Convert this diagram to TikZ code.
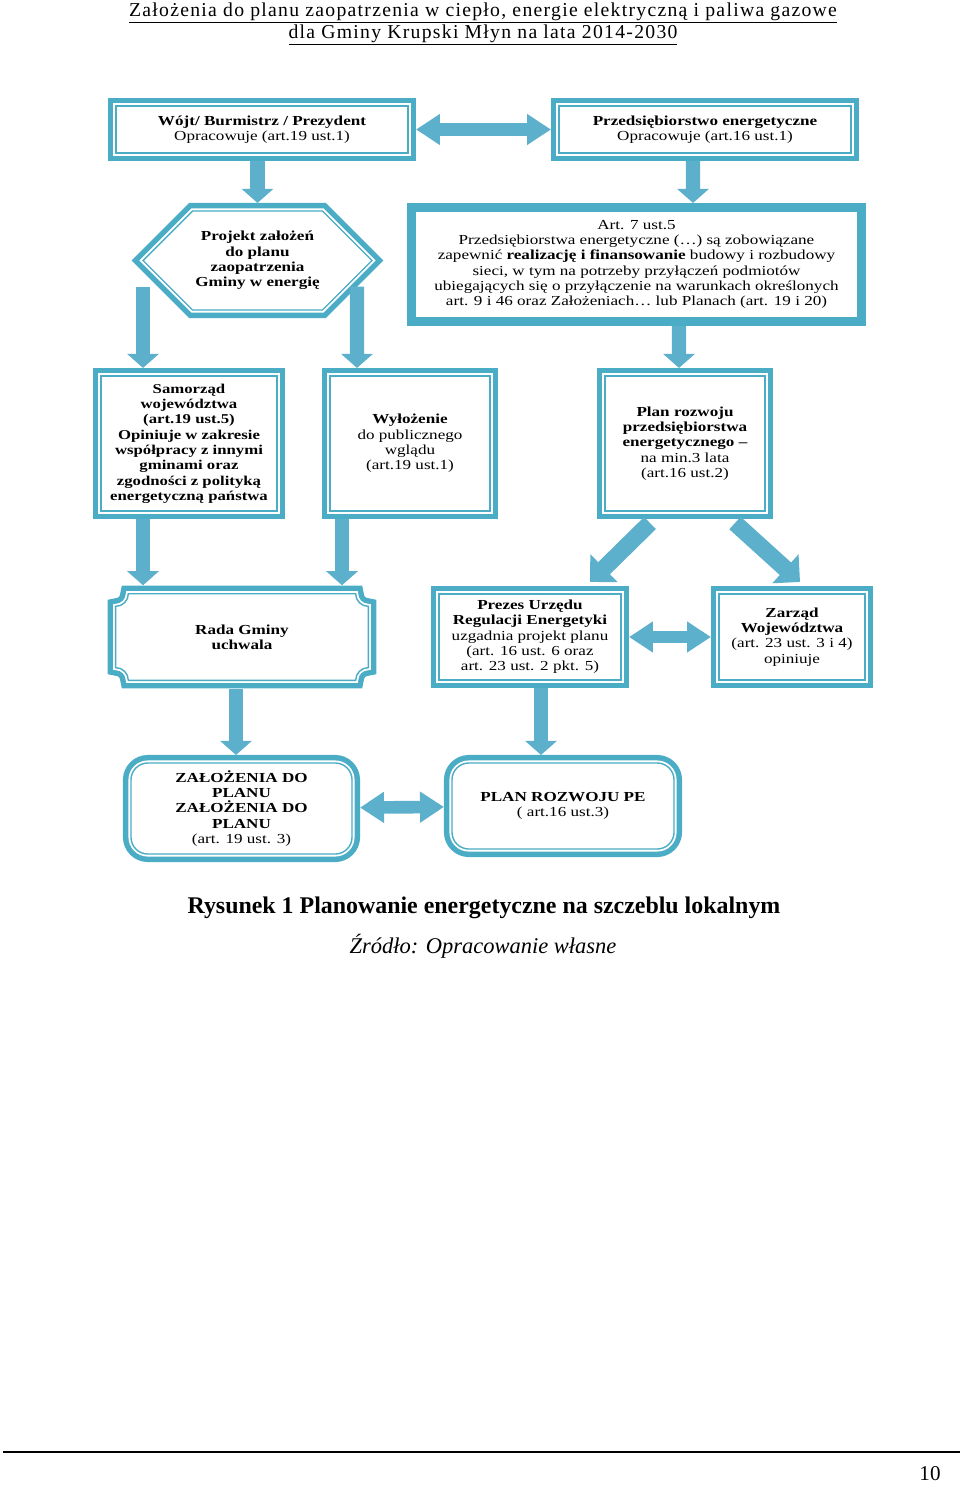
\documentclass[tikz,border=0pt]{standalone}
\usepackage{fontspec}
\setmainfont{Liberation Serif}
\newfontfamily\boxfont[FakeStretch=1.24]{Liberation Serif}
\newfontfamily\headfont[LetterSpace=6.5]{Liberation Serif}
\usetikzlibrary{calc, shapes.symbols, arrows.meta, backgrounds}
\definecolor{frame}{RGB}{75,172,198}
\definecolor{arrowblue}{RGB}{92,176,204}

\tikzset{
  txt/.style={align=center, font=\boxfont\fontsize{9.8}{10.9}\selectfont, inner sep=2pt},
  twoline/.style={preaction={draw=frame, line width=11.4pt}, fill=white, draw=white,
    line width=3.6pt, postaction={draw=frame, line width=1pt}},
  dbox/.style={txt, twoline, outer sep=5.7pt},
  thickbox/.style={txt, draw=frame, line width=6.4pt, fill=white, outer sep=3.2pt},
  fat/.style={draw=arrowblue, line width=10pt, -{Triangle[width=22pt,length=10pt]}},
  fatdiag/.style={draw=arrowblue, line width=12pt, -{Triangle[width=27pt,length=14pt]}},
  twoway/.style={draw=arrowblue, line width=9pt,
    {Triangle[width=21pt,length=17pt]}-{Triangle[width=21pt,length=17pt]}}
}

\begin{document}
\begin{tikzpicture}[x=0.025cm, y=-0.025cm]
\useasboundingbox (0,0) rectangle (960,1486);

% page header
\node[align=center, font=\headfont\fontsize{14}{15.6}\selectfont] (head) at (483,24)
  {\underline{Założenia do planu zaopatrzenia w ciepło, energie elektryczną i paliwa gazowe}\\
   \underline{dla Gminy Krupski Młyn na lata 2014-2030}};

% first row
\node[dbox, minimum width=7.3cm, minimum height=1.175cm] (wojt) at (262,129.5)
  {\textbf{Wójt/ Burmistrz / Prezydent}\\Opracowuje (art.19 ust.1)};
\node[dbox, minimum width=7.3cm, minimum height=1.175cm] (przeds) at (705,129.5)
  {\textbf{Przedsiębiorstwo energetyczne}\\Opracowuje (art.16 ust.1)};

% second row
\node[dbox, signal, signal to=east and west, signal pointer angle=90,
  minimum width=5.575cm, minimum height=2.475cm] (proj) at (257.5,260.5)
  {\textbf{Projekt założeń}\\\textbf{do planu}\\\textbf{zaopatrzenia}\\\textbf{Gminy w energię}};
\node[thickbox, minimum width=11.25cm, minimum height=2.85cm] (art) at (636.5,264.5)
  {Art. 7 ust.5\\
   Przedsiębiorstwa energetyczne (…) są zobowiązane\\
   zapewnić \textbf{realizację i finansowanie} budowy i rozbudowy\\
   sieci, w tym na potrzeby przyłączeń podmiotów\\
   ubiegających się o przyłączenie na warunkach określonych\\
   art. 9 i 46 oraz Założeniach… lub Planach (art. 19 i 20)};

% third row
\node[dbox, minimum width=4.4cm, minimum height=3.375cm, font=\boxfont\bfseries\fontsize{9.6}{10.9}\selectfont] (samorz) at (189,443.5)
  {Samorząd\\województwa\\(art.19 ust.5)\\Opiniuje w zakresie\\współpracy z innymi\\gminami oraz\\zgodności z polityką\\energetyczną państwa};
\node[dbox, minimum width=4cm, minimum height=3.375cm] (wyloz) at (410,443.5)
  {\textbf{Wyłożenie}\\do publicznego\\wglądu\\(art.19 ust.1)};
\node[dbox, minimum width=4cm, minimum height=3.375cm] (plan) at (685,443.5)
  {\textbf{Plan rozwoju}\\\textbf{przedsiębiorstwa}\\\textbf{energetycznego –}\\na min.3 lata\\(art.16 ust.2)};

% fourth row
\node[txt, minimum width=6.3cm, minimum height=2.15cm] (rada) at (242,637)
  {\textbf{Rada Gminy}\\\textbf{uchwala}};
\begin{scope}[on background layer]
  \draw[twoline] ($(rada.north west)+(9pt,0)$) -- ($(rada.north east)+(-9pt,0)$)
    arc[start angle=180, end angle=270, radius=9pt]
    -- ($(rada.south east)+(0,9pt)$) arc[start angle=90, end angle=180, radius=9pt]
    -- ($(rada.south west)+(9pt,0)$) arc[start angle=0, end angle=90, radius=9pt]
    -- ($(rada.north west)+(0,-9pt)$) arc[start angle=270, end angle=360, radius=9pt]
    -- cycle;
\end{scope}
\node[dbox, minimum width=4.55cm, minimum height=2.15cm] (prezes) at (530,637)
  {\textbf{Prezes Urzędu}\\\textbf{Regulacji Energetyki}\\uzgadnia projekt planu\\(art. 16 ust. 6 oraz\\art. 23 ust. 2 pkt. 5)};
\node[dbox, minimum width=3.65cm, minimum height=2.15cm] (zarzad) at (792,637)
  {\textbf{Zarząd}\\\textbf{Województwa}\\(art. 23 ust. 3 i 4)\\opiniuje};

% last row
\node[dbox, rounded corners=12pt, minimum width=5.525cm, minimum height=2.275cm] (zal) at (241.5,808.5)
  {\textbf{ZAŁOŻENIA DO}\\\textbf{PLANU}\\\textbf{ZAŁOŻENIA DO}\\\textbf{PLANU}\\(art. 19 ust. 3)};
\node[dbox, rounded corners=12pt, minimum width=5.55cm, minimum height=2.15cm] (planroz) at (563,806)
  {\textbf{PLAN ROZWOJU PE}\\( art.16 ust.3)};

% arrows
\draw[twoway] (wojt) -- (przeds);
\draw[fat] (wojt.south -| proj.north) -- (proj.north);
\draw[fat] ($(przeds.south)+(-12,0)$) -- ($(art.north)+(56.5,0)$);
\draw[fat] ($(proj.center)+(-114.5,26)$) -- ($(samorz.north)+(-46,0)$);
\draw[fat] ($(proj.center)+(99.5,26)$) -- ($(wyloz.north)+(-53,0)$);
\draw[fat] ($(art.south)+(42.5,0)$) -- ($(plan.north)+(-6,0)$);
\draw[fat, shorten >=6pt] ($(samorz.south)+(-46,0)$) -- ($(rada.north)+(-99,0)$);
\draw[fat, shorten >=6pt] ($(wyloz.south)+(-68,0)$) -- ($(rada.north)+(100,0)$);
\draw[fatdiag] ($(plan.south)+(-35,4)$) -- ($(prezes.north)+(60,-4)$);
\draw[fatdiag] ($(plan.south)+(50,4)$) -- ($(zarzad.north)+(8,-4)$);
\draw[twoway] (prezes) -- (zarzad);
\draw[fat, shorten <=6pt] ($(rada.south)+(-6,0)$) -- ($(zal.north)+(-5.5,0)$);
\draw[fat] ($(prezes.south)+(11,0)$) -- ($(planroz.north)+(-22,0)$);
\draw[twoway] (zal) -- (planroz);

% caption
\node[font=\bfseries\fontsize{17}{20}\selectfont] (capt) at (484,908)
  {Rysunek 1 Planowanie energetyczne na szczeblu lokalnym};
\node[font=\itshape\fontsize{16}{19}\selectfont] (src) at (483,946)
  {Źródło: Opracowanie własne};

% footer
\coordinate (footl) at (3,1452);
\coordinate (footr) at (960,1452);
\draw[line width=1.4pt] (footl) -- (footr);
\node[font=\fontsize{15}{18}\selectfont] (pnum) at (930,1474) {10};
\end{tikzpicture}
\end{document}
